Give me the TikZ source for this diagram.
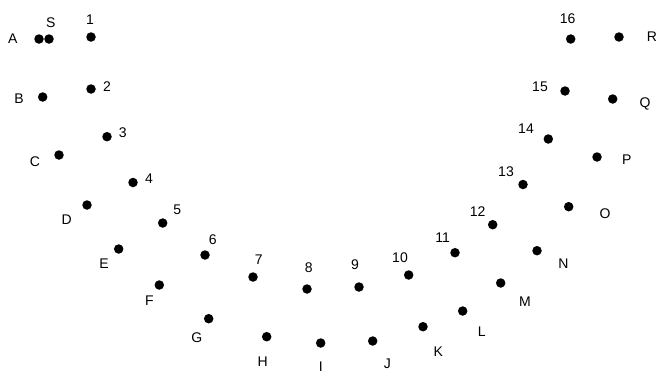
\documentclass[tikz,border=0pt]{standalone}
\usepackage{fontspec}
\setmainfont{Liberation Sans}
\begin{document}
\begin{tikzpicture}[x=1pt,y=-1pt,
  dot/.style={circle,fill=black,inner sep=0pt,minimum size=9.5pt},
  lab/.style={inner sep=0pt,font=\fontsize{14}{14}\selectfont}]
\useasboundingbox (0,0) rectangle (658,375);
% dots
\node[dot] (A) at (39,39) {};
\node[dot] (S) at (49,39) {};
\node[dot] (n1) at (91,37) {};
\node[dot] (B) at (42.7,97) {};
\node[dot] (n2) at (91,89) {};
\node[dot] (n3) at (107,136.7) {};
\node[dot] (C) at (59,155) {};
\node[dot] (n4) at (133,182.5) {};
\node[dot] (D) at (87,205) {};
\node[dot] (n5) at (162.7,223) {};
\node[dot] (E) at (118.7,249) {};
\node[dot] (n6) at (205,255) {};
\node[dot] (F) at (159.3,285) {};
\node[dot] (n7) at (253,277) {};
\node[dot] (n8) at (307,289) {};
\node[dot] (G) at (208.7,318.7) {};
\node[dot] (H) at (266.7,336.7) {};
\node[dot] (I) at (320.7,343) {};
\node[dot] (n9) at (359,287) {};
\node[dot] (J) at (372.7,341) {};
\node[dot] (n10) at (408.7,275) {};
\node[dot] (K) at (423,326.7) {};
\node[dot] (n11) at (455,252.7) {};
\node[dot] (L) at (462.7,311) {};
\node[dot] (n12) at (492.7,224.7) {};
\node[dot] (M) at (500.7,283) {};
\node[dot] (n13) at (523,184.5) {};
\node[dot] (N) at (537,250.7) {};
\node[dot] (n14) at (548.3,139) {};
\node[dot] (O) at (568.7,206.7) {};
\node[dot] (P) at (597,157) {};
\node[dot] (n15) at (565,91) {};
\node[dot] (Q) at (612.7,99) {};
\node[dot] (n16) at (570.7,39) {};
\node[dot] (R) at (619,37) {};
% labels
\node[lab] (lA) at (12.7,39) {A};
\node[lab] (lS) at (50.7,23) {S};
\node[lab] (l1) at (90,19.5) {1};
\node[lab] (lB) at (19,99) {B};
\node[lab] (l2) at (107,86.5) {2};
\node[lab] (l3) at (122.7,132.5) {3};
\node[lab] (lC) at (35,161.5) {C};
\node[lab] (l4) at (149,178.3) {4};
\node[lab] (lD) at (66.7,220) {D};
\node[lab] (l5) at (177.3,209.3) {5};
\node[lab] (lE) at (104,263.3) {E};
\node[lab] (l6) at (212.7,240) {6};
\node[lab] (lF) at (149.3,300.7) {F};
\node[lab] (l7) at (258.7,259.3) {7};
\node[lab] (l8) at (308.7,267.3) {8};
\node[lab] (lG) at (196.7,337.3) {G};
\node[lab] (lH) at (262.7,361.3) {H};
\node[lab] (lI) at (320.7,367) {I};
\node[lab] (l9) at (355,265) {9};
\node[lab] (lJ) at (387.3,363.3) {J};
\node[lab] (l10) at (400,257.3) {10};
\node[lab] (lK) at (438.3,351.7) {K};
\node[lab] (l11) at (442.7,237.3) {11};
\node[lab] (lL) at (481.7,331.7) {L};
\node[lab] (l12) at (477.7,211.7) {12};
\node[lab] (lM) at (525,301.7) {M};
\node[lab] (l13) at (506,171.7) {13};
\node[lab] (lN) at (563.3,263.3) {N};
\node[lab] (l14) at (526,129) {14};
\node[lab] (lO) at (605,213.3) {O};
\node[lab] (lP) at (626.7,159.3) {P};
\node[lab] (l15) at (540,87) {15};
\node[lab] (lQ) at (645,104) {Q};
\node[lab] (l16) at (567.7,18.3) {16};
\node[lab] (lR) at (652,37) {R};
\end{tikzpicture}
\end{document}
